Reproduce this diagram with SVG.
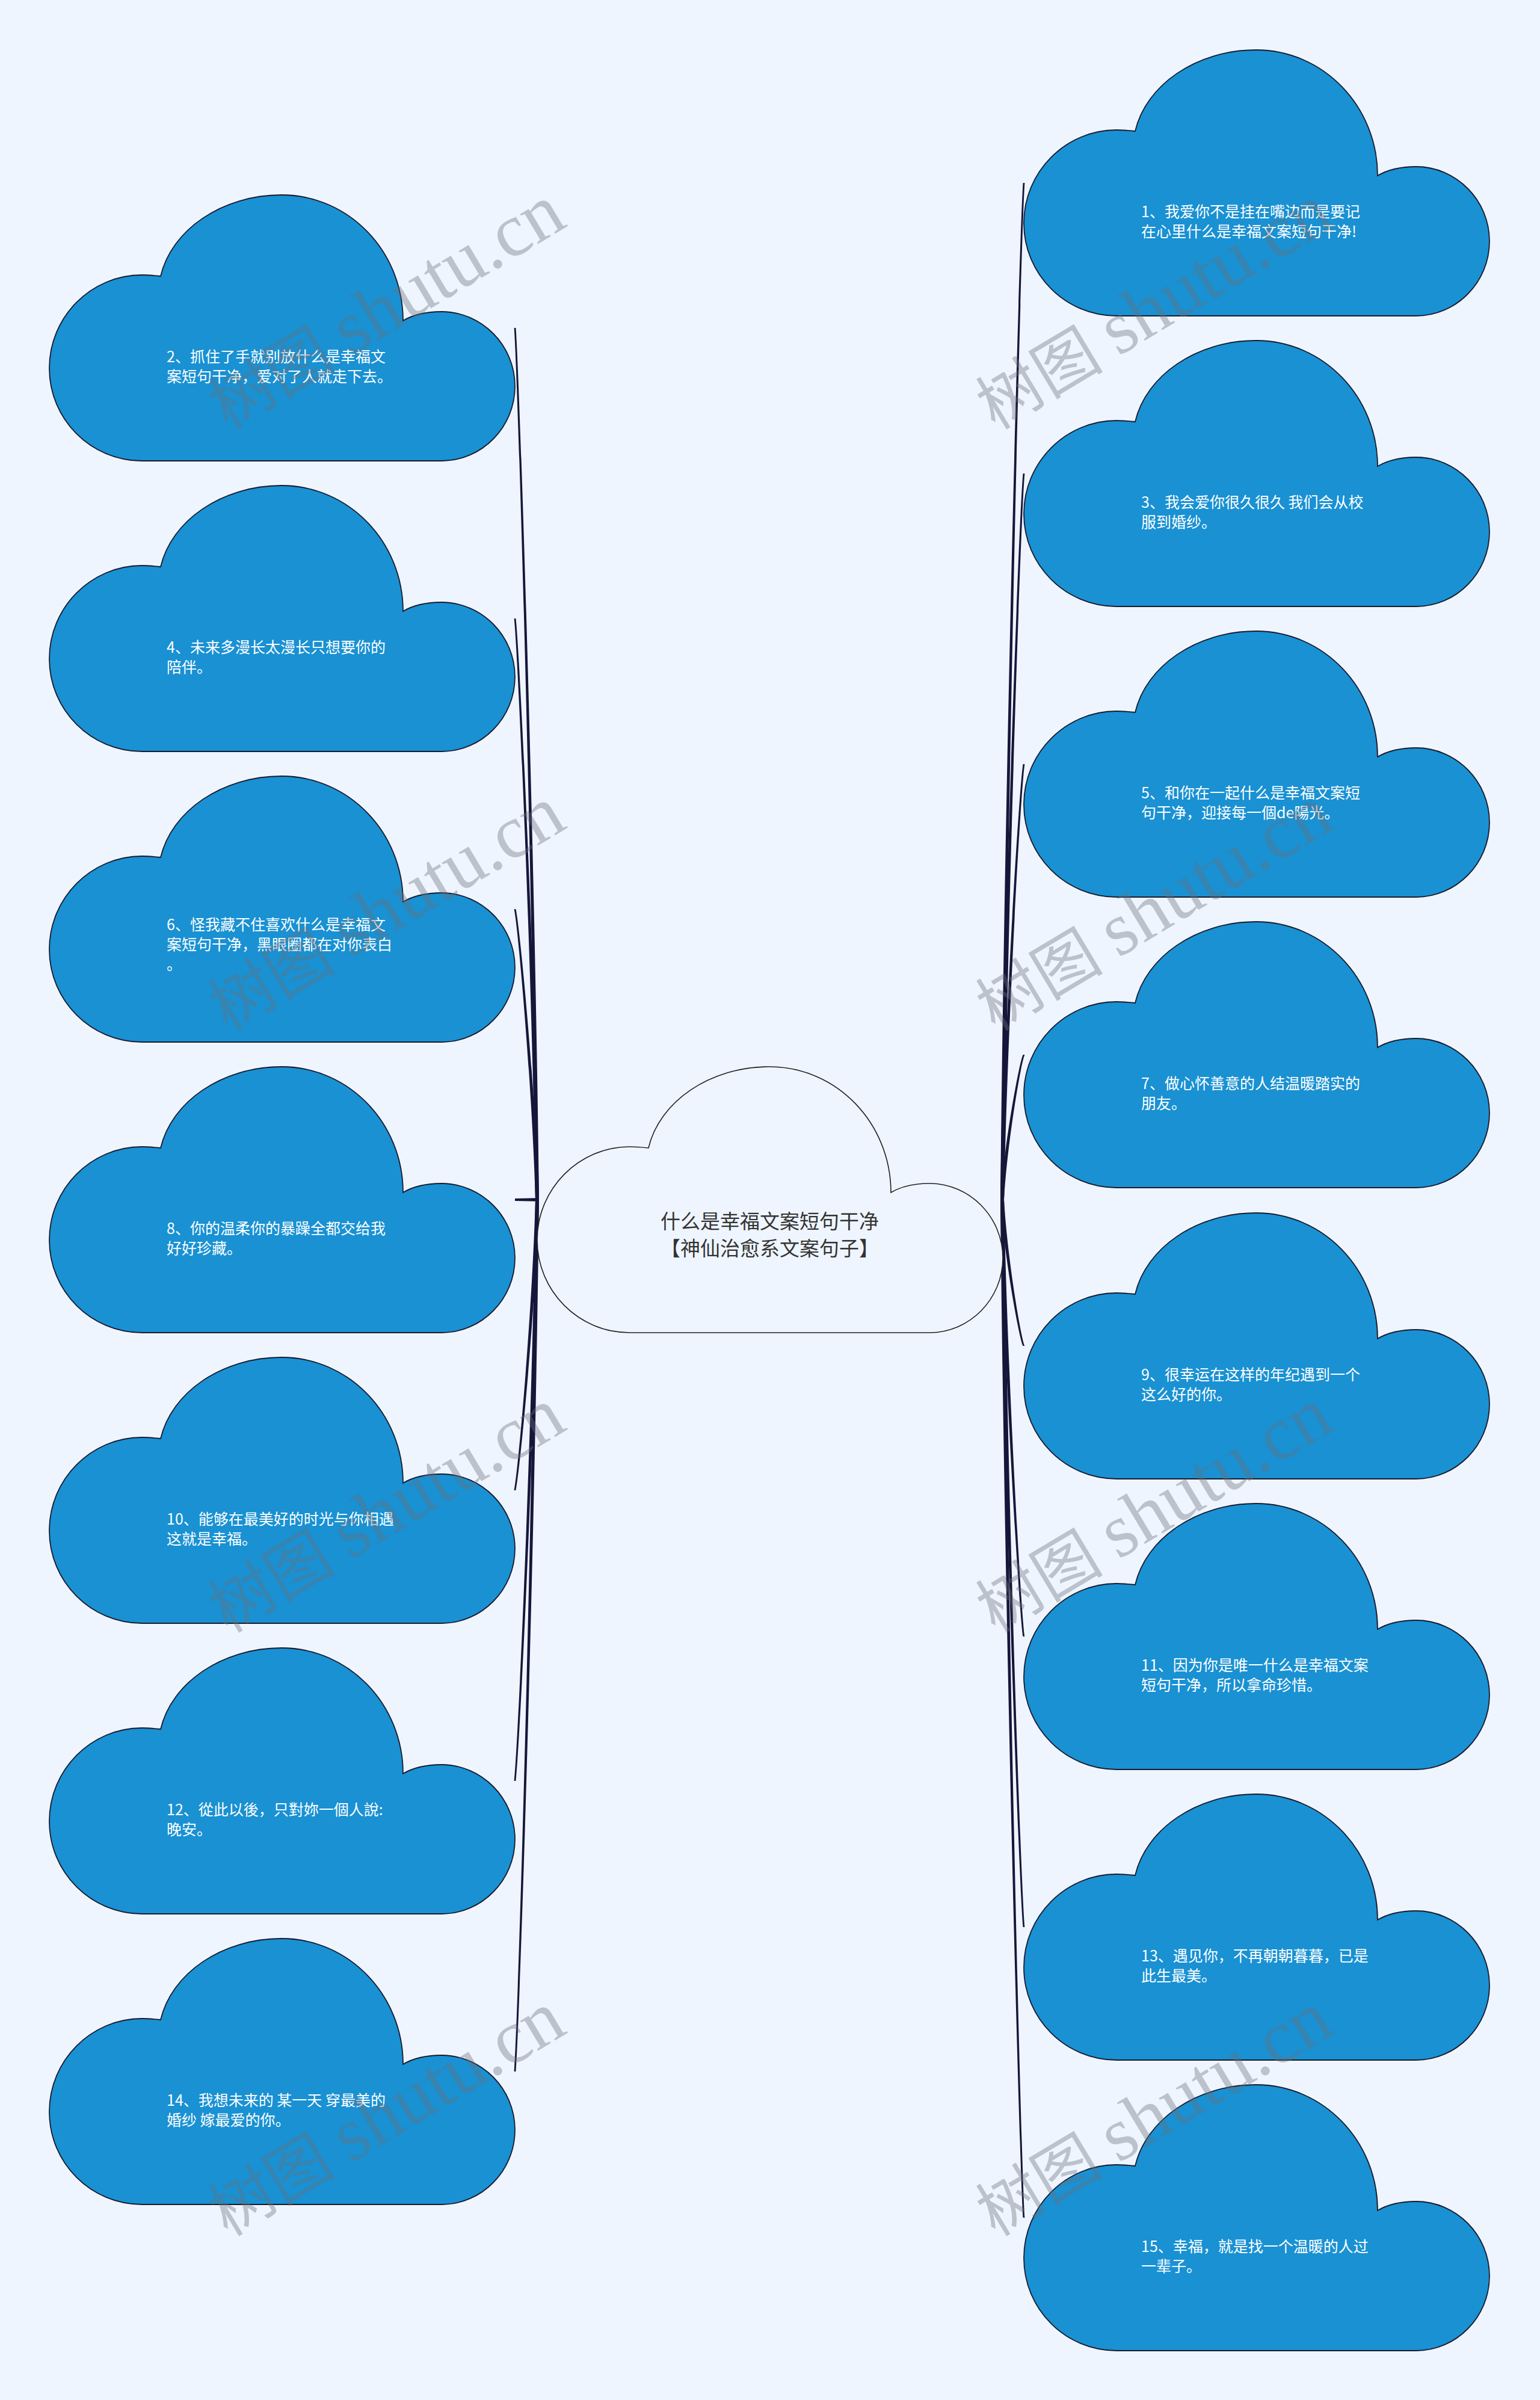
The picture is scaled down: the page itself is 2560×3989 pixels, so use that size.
<svg xmlns="http://www.w3.org/2000/svg" xmlns:xlink="http://www.w3.org/1999/xlink" width="2560" height="3989" viewBox="0 0 2560 3989">
<style>
.bg{fill:#eef5fe}
.cl{fill:#1991d3;stroke:#1a1a2e;stroke-width:1.8}
.cc{fill:#eef5fe;stroke:#222222;stroke-width:1.6}
.t{font-family:"Noto Sans CJK SC","Noto Sans",sans-serif;font-size:25px;fill:#ffffff}
.ct{font-family:"Noto Sans CJK SC","Noto Sans",sans-serif;font-size:33px;fill:#333333;text-anchor:middle}
.ln{fill:#16163a}
.wm{font-family:"Liberation Serif","Noto Sans CJK SC",serif;font-size:106px;fill:#6a6e78;fill-opacity:0.38;text-anchor:middle}
.wl{font-size:126px}
</style>
<defs>
<path id="cloud" d="M185,135 C203,58 287,0 386,0 C498,0 588,94 588,209 C605,199 628,194 652,194 C719,194 774,250 774,318 C774,386 719,442 652,442 L154,442 C69,442 0,373 0,288 C0,203 69,133 154,133 C165,133 175,134 185,135 Z"/>
</defs>
<rect class="bg" x="0" y="0" width="2560" height="3989"/>

<g id="connectors">
<path class="ln" d="M890,1994 C884.5,1414 860.5,617 854.6,545 L857.4,545 C863.5,617 889.5,1414 896,1994 Z"/>
<path class="ln" d="M890,1994 C884.5,1608 860.5,1076 854.6,1028 L857.4,1028 C863.5,1076 889.5,1608 896,1994 Z"/>
<path class="ln" d="M890,1994 C884.5,1801 860.5,1535 854.6,1511 L857.4,1511 C863.5,1535 889.5,1801 896,1994 Z"/>
<path class="ln" d="M856,1992 L893,1991.2 L893,1996.8 L856,1996 Z"/>
<path class="ln" d="M890,1994 C884.5,2187 860.5,2453 854.6,2477 L857.4,2477 C863.5,2453 889.5,2187 896,1994 Z"/>
<path class="ln" d="M890,1994 C884.5,2380 860.5,2912 854.6,2960 L857.4,2960 C863.5,2912 889.5,2380 896,1994 Z"/>
<path class="ln" d="M890,1994 C884.5,2574 860.5,3371 854.6,3443 L857.4,3443 C863.5,3371 889.5,2574 896,1994 Z"/>
<path class="ln" d="M1663,1994 C1669.5,1318 1694.5,389 1700.6,304 L1703.4,304 C1697.5,389 1674.5,1318 1669,1994 Z"/>
<path class="ln" d="M1663,1994 C1669.5,1511 1694.5,847 1700.6,787 L1703.4,787 C1697.5,847 1674.5,1511 1669,1994 Z"/>
<path class="ln" d="M1663,1994 C1669.5,1704 1694.5,1306 1700.6,1270 L1703.4,1270 C1697.5,1306 1674.5,1704 1669,1994 Z"/>
<path class="ln" d="M1663,1994 C1669.5,1898 1694.5,1765 1700.6,1753 L1703.4,1753 C1697.5,1765 1674.5,1898 1669,1994 Z"/>
<path class="ln" d="M1663,1994 C1669.5,2091 1694.5,2225 1700.6,2237 L1703.4,2237 C1697.5,2225 1674.5,2091 1669,1994 Z"/>
<path class="ln" d="M1663,1994 C1669.5,2284 1694.5,2684 1700.6,2720 L1703.4,2720 C1697.5,2684 1674.5,2284 1669,1994 Z"/>
<path class="ln" d="M1663,1994 C1669.5,2478 1694.5,3143 1700.6,3203 L1703.4,3203 C1697.5,3143 1674.5,2478 1669,1994 Z"/>
<path class="ln" d="M1663,1994 C1669.5,2671 1694.5,3601 1700.6,3686 L1703.4,3686 C1697.5,3601 1674.5,2671 1669,1994 Z"/>
</g>

<g id="center">
<use xlink:href="#cloud" href="#cloud" class="cc" transform="translate(893,1773)"/>
<text class="ct" x="1279.5" y="2042">什么是幸福文案短句干净</text>
<text class="ct" x="1279.5" y="2087">【神仙治愈系文案句子】</text>
</g>

<g id="node2">
<use href="#cloud" xlink:href="#cloud" class="cl" transform="translate(82,324)"/>
<text class="t" x="277" y="602">2、抓住了手就别放什么是幸福文</text>
<text class="t" x="277" y="635">案短句干净，爱对了人就走下去。</text>
</g>
<g id="node4">
<use href="#cloud" xlink:href="#cloud" class="cl" transform="translate(82,807)"/>
<text class="t" x="277" y="1085">4、未来多漫长太漫长只想要你的</text>
<text class="t" x="277" y="1118">陪伴。</text>
</g>
<g id="node6">
<use href="#cloud" xlink:href="#cloud" class="cl" transform="translate(82,1290)"/>
<text class="t" x="277" y="1546">6、怪我藏不住喜欢什么是幸福文</text>
<text class="t" x="277" y="1579">案短句干净，黑眼圈都在对你表白</text>
<text class="t" x="277" y="1612">。</text>
</g>
<g id="node8">
<use href="#cloud" xlink:href="#cloud" class="cl" transform="translate(82,1773)"/>
<text class="t" x="277" y="2051">8、你的温柔你的暴躁全都交给我</text>
<text class="t" x="277" y="2084">好好珍藏。</text>
</g>
<g id="node10">
<use href="#cloud" xlink:href="#cloud" class="cl" transform="translate(82,2256)"/>
<text class="t" x="277" y="2534">10、能够在最美好的时光与你相遇</text>
<text class="t" x="277" y="2567">这就是幸福。</text>
</g>
<g id="node12">
<use href="#cloud" xlink:href="#cloud" class="cl" transform="translate(82,2739)"/>
<text class="t" x="277" y="3017">12、從此以後，只對妳一個人說:</text>
<text class="t" x="277" y="3050">晚安。</text>
</g>
<g id="node14">
<use href="#cloud" xlink:href="#cloud" class="cl" transform="translate(82,3222)"/>
<text class="t" x="277" y="3500">14、我想未来的 某一天 穿最美的</text>
<text class="t" x="277" y="3533">婚纱 嫁最爱的你。</text>
</g>

<g id="node1">
<use href="#cloud" xlink:href="#cloud" class="cl" transform="translate(1702,83)"/>
<text class="t" x="1897" y="361">1、我爱你不是挂在嘴边而是要记</text>
<text class="t" x="1897" y="394">在心里什么是幸福文案短句干净!</text>
</g>
<g id="node3">
<use href="#cloud" xlink:href="#cloud" class="cl" transform="translate(1702,566)"/>
<text class="t" x="1897" y="844">3、我会爱你很久很久 我们会从校</text>
<text class="t" x="1897" y="877">服到婚纱。</text>
</g>
<g id="node5">
<use href="#cloud" xlink:href="#cloud" class="cl" transform="translate(1702,1049)"/>
<text class="t" x="1897" y="1327">5、和你在一起什么是幸福文案短</text>
<text class="t" x="1897" y="1360">句干净，迎接每一個de陽光。</text>
</g>
<g id="node7">
<use href="#cloud" xlink:href="#cloud" class="cl" transform="translate(1702,1532)"/>
<text class="t" x="1897" y="1810">7、做心怀善意的人结温暖踏实的</text>
<text class="t" x="1897" y="1843">朋友。</text>
</g>
<g id="node9">
<use href="#cloud" xlink:href="#cloud" class="cl" transform="translate(1702,2016)"/>
<text class="t" x="1897" y="2294">9、很幸运在这样的年纪遇到一个</text>
<text class="t" x="1897" y="2327">这么好的你。</text>
</g>
<g id="node11">
<use href="#cloud" xlink:href="#cloud" class="cl" transform="translate(1702,2499)"/>
<text class="t" x="1897" y="2777">11、因为你是唯一什么是幸福文案</text>
<text class="t" x="1897" y="2810">短句干净，所以拿命珍惜。</text>
</g>
<g id="node13">
<use href="#cloud" xlink:href="#cloud" class="cl" transform="translate(1702,2982)"/>
<text class="t" x="1897" y="3260">13、遇见你，不再朝朝暮暮，已是</text>
<text class="t" x="1897" y="3293">此生最美。</text>
</g>
<g id="node15">
<use href="#cloud" xlink:href="#cloud" class="cl" transform="translate(1702,3465)"/>
<text class="t" x="1897" y="3743">15、幸福，就是找一个温暖的人过</text>
<text class="t" x="1897" y="3776">一辈子。</text>
</g>

<g id="watermarks">
<text class="wm" transform="translate(662,545) rotate(-31)">树图 <tspan class="wl">shutu.cn</tspan></text>
<text class="wm" transform="translate(1938,545) rotate(-31)">树图 <tspan class="wl">shutu.cn</tspan></text>
<text class="wm" transform="translate(662,1545) rotate(-31)">树图 <tspan class="wl">shutu.cn</tspan></text>
<text class="wm" transform="translate(1938,1545) rotate(-31)">树图 <tspan class="wl">shutu.cn</tspan></text>
<text class="wm" transform="translate(662,2545) rotate(-31)">树图 <tspan class="wl">shutu.cn</tspan></text>
<text class="wm" transform="translate(1938,2545) rotate(-31)">树图 <tspan class="wl">shutu.cn</tspan></text>
<text class="wm" transform="translate(662,3548) rotate(-31)">树图 <tspan class="wl">shutu.cn</tspan></text>
<text class="wm" transform="translate(1938,3548) rotate(-31)">树图 <tspan class="wl">shutu.cn</tspan></text>
</g>
</svg>
